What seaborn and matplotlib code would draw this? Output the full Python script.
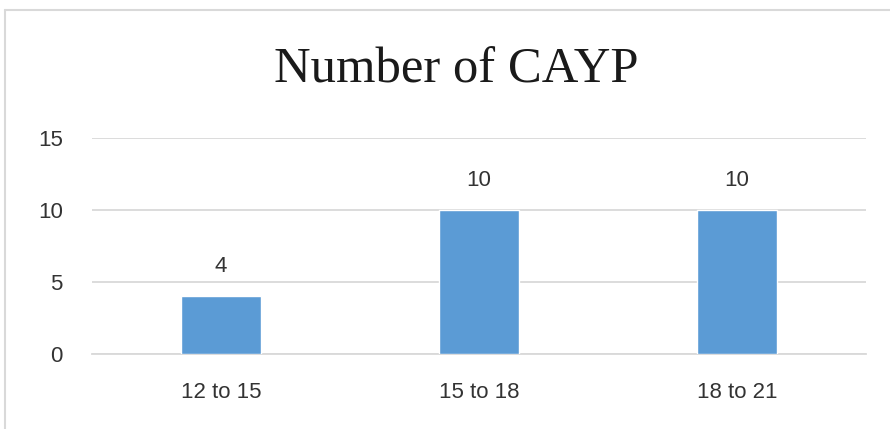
import seaborn as sns
import pandas as pd
import matplotlib.pyplot as plt
from matplotlib.lines import Line2D

# chart values
age_groups = ['12 to 15', '15 to 18', '18 to 21']
cayp_counts = [4, 10, 10]
y_ticks = [0, 5, 10, 15]

sns.set_theme(style='white')
plt.rcParams['font.family'] = ['Liberation Sans', 'DejaVu Sans']

df = pd.DataFrame({'group': age_groups, 'count': cayp_counts})

fig = plt.figure(figsize=(8.9, 4.29), dpi=100)
ax = fig.add_axes([92 / 890, 1 - 354 / 429, (866 - 92) / 890, (354 - 138) / 429])

sns.barplot(data=df, x='group', y='count', color='#5B9BD5', width=0.31,
            saturation=1, ax=ax, zorder=3)

ax.set_ylim(0, 15)
ax.set_xlim(-0.5, 2.5)
ax.set_yticks(y_ticks)
ax.yaxis.grid(True, color='#D9D9D9', linewidth=1.3, zorder=0)
ax.set_axisbelow(True)
for side in ['top', 'right', 'left']:
    ax.spines[side].set_visible(False)
ax.spines['bottom'].set_color('#D9D9D9')
ax.spines['bottom'].set_linewidth(1.3)
ax.set_xlabel('')
ax.set_ylabel('')
ax.tick_params(axis='both', length=0, labelsize=16, colors='#333333')
ax.tick_params(axis='y', pad=21)
ax.tick_params(axis='x', pad=20)

for i, v in enumerate(cayp_counts):
    ax.annotate(str(v), (i, v), xytext=(0, 14), textcoords='offset points',
                ha='center', va='bottom', fontsize=16, color='#333333')

fig.text(456 / 890, 1 - 70 / 429, 'Number of CAYP', ha='center', va='center',
         fontsize=36.5, color='#1a1a1a', family=['Liberation Serif', 'DejaVu Serif'])

# outer chart frame (top and left edges visible)
fig.add_artist(Line2D([5 / 890, 1], [1 - 10 / 429, 1 - 10 / 429],
                      transform=fig.transFigure, color='#D9D9D9', linewidth=1.5))
fig.add_artist(Line2D([5 / 890, 5 / 890], [0, 1 - 10 / 429],
                      transform=fig.transFigure, color='#D9D9D9', linewidth=1.5))

fig.savefig('out.png', dpi=100)
